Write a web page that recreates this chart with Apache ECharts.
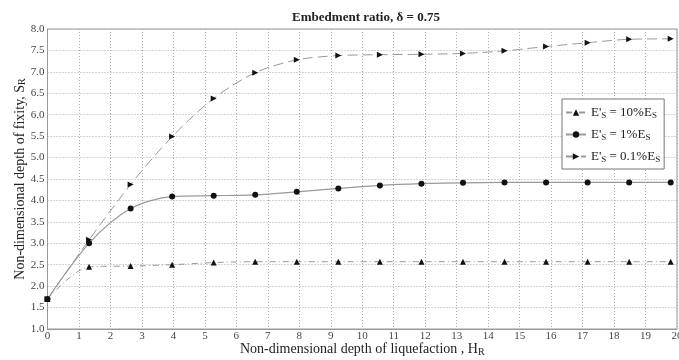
<!DOCTYPE html>
<html lang="en">
<head>
    <meta charset="utf-8">
    <title>Embedment ratio</title>
    <script src="https://cdn.jsdelivr.net/npm/echarts@6/dist/echarts.min.js"></script>
    <style>
        html, body { margin: 0; padding: 0; background: #fff; }
        #main { width: 679px; height: 360px; }
    </style>
</head>
<body>
<div id="main"></div>
<script type="text/javascript">
    // depth of liquefaction H_R (x)
    var hr = [0, 1.32, 2.64, 3.96, 5.28, 6.6, 7.92, 9.24, 10.56, 11.88, 13.2, 14.52, 15.84, 17.16, 18.48, 19.8];
    // depth of fixity S_R for each soil stiffness ratio
    var es10 = [1.7, 2.45, 2.47, 2.5, 2.55, 2.57, 2.57, 2.57, 2.57, 2.57, 2.57, 2.57, 2.57, 2.57, 2.57, 2.57];
    var es1 = [1.7, 3.0, 3.81, 4.09, 4.11, 4.13, 4.2, 4.28, 4.35, 4.39, 4.41, 4.42, 4.42, 4.42, 4.42, 4.42];
    var es01 = [1.7, 3.08, 4.37, 5.49, 6.38, 6.98, 7.28, 7.38, 7.4, 7.41, 7.43, 7.49, 7.59, 7.68, 7.76, 7.77];

    var serif = 'Liberation Serif';
    var rightTri = 'path://M0,0 L10,5 L0,10 Z';

    function pairs(ys) {
        var out = [];
        for (var i = 0; i < hr.length; i++) {
            out.push([hr[i], ys[i]]);
        }
        return out;
    }

    function subRich(size) {
        return {
            n: { fontFamily: serif, fontSize: size, color: '#222', lineHeight: 15 },
            s: { fontFamily: serif, fontSize: size - 4, color: '#222', lineHeight: 15, verticalAlign: 'bottom', padding: [7, 0, 0, 0] }
        };
    }

    var myChart = echarts.init(document.getElementById('main'));

    var option = {
        animation: false,
        title: {
            text: 'Embedment ratio, δ = 0.75',
            left: 361,
            top: 6,
            textAlign: 'center',
            textStyle: { fontFamily: serif, fontSize: 13, fontWeight: 'bold', color: '#222' }
        },
        legend: {
            orient: 'vertical',
            left: 562,
            top: 99,
            padding: [5, 4, 5, 3],
            itemGap: 6,
            itemWidth: 20,
            itemHeight: 8,
            backgroundColor: '#fff',
            borderColor: '#777',
            borderWidth: 1,
            data: ['10', '1', '0.1'],
            formatter: function (name) {
                return "{n|E'}{s|S}{n| = " + name + '%E}{s|S}';
            },
            textStyle: { rich: subRich(13) }
        },
        grid: {
            left: 47.5,
            right: 2,
            top: 29,
            bottom: 31,
            outerBoundsMode: 'none',
            containLabel: false,
            show: true,
            borderColor: '#999',
            borderWidth: 1
        },
        xAxis: {
            type: 'value',
            min: 0,
            max: 20,
            interval: 1,
            name: "{n|Non-dimensional depth of liquefaction , H}{s|R}",
            nameLocation: 'middle',
            nameGap: 13,
            nameMoveOverlap: false,
            nameTextStyle: { rich: subRich(14) },
            axisLine: { lineStyle: { color: '#999' } },
            axisTick: { show: false },
            axisLabel: { fontFamily: serif, fontSize: 11, color: '#444', margin: 2 },
            splitLine: { lineStyle: { color: '#aaa', type: [1, 2] } }
        },
        yAxis: {
            type: 'value',
            min: 1,
            max: 8,
            interval: 0.5,
            name: "{n|Non-dimensional depth of fixity, S}{s|R}",
            nameLocation: 'middle',
            nameGap: 20,
            nameMoveOverlap: false,
            nameTextStyle: { rich: subRich(14) },
            axisLine: { lineStyle: { color: '#999' } },
            axisTick: { show: false },
            axisLabel: {
                fontFamily: serif, fontSize: 11, color: '#444', margin: 3,
                formatter: function (v) { return v.toFixed(1); }
            },
            splitLine: { lineStyle: { color: '#aaa', type: [1, 2] } }
        },
        series: [{
            name: '10',
            type: 'line',
            smooth: 0.3,
            data: pairs(es10),
            symbol: 'triangle',
            symbolSize: 6,
            itemStyle: { color: '#111' },
            lineStyle: { color: '#999', width: 1, type: [6, 3, 1, 3] }
        }, {
            name: '1',
            type: 'line',
            smooth: 0.3,
            data: pairs(es1),
            symbol: 'circle',
            symbolSize: 6,
            itemStyle: { color: '#111' },
            lineStyle: { color: '#999', width: 1.2 }
        }, {
            name: '0.1',
            type: 'line',
            smooth: 0.3,
            data: pairs(es01),
            symbol: rightTri,
            symbolSize: 6,
            itemStyle: { color: '#111' },
            lineStyle: { color: '#999', width: 1, type: [10, 5] }
        }]
    };

    myChart.setOption(option);
</script>
</body>
</html>
